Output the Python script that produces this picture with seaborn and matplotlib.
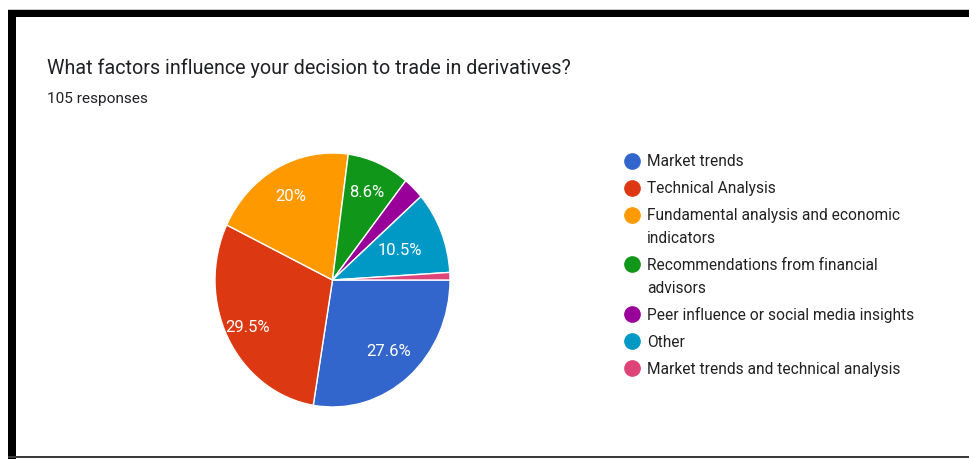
import matplotlib
matplotlib.use("Agg")
import matplotlib.pyplot as plt
import seaborn as sns
import numpy as np
from matplotlib.lines import Line2D
from matplotlib.patches import Rectangle

# ---- data -------------------------------------------------------------
title = "What factors influence your decision to trade in derivatives?"
subtitle = "105 responses"
categories = [
    "Market trends",
    "Technical Analysis",
    "Fundamental analysis and economic\nindicators",
    "Recommendations from financial\nadvisors",
    "Peer influence or social media insights",
    "Other",
    "Market trends and technical analysis",
]
counts = [29, 31, 21, 9, 3, 11, 1]
colors = ["#3366CC", "#DC3912", "#FF9900", "#109618", "#990099", "#0099C6", "#DD4477"]

# radial position of each percentage label (fraction of the radius)
label_radius = [0.74, 0.81, 0.75, 0.75, 0.70, 0.62, 0.70]

# ---- style ------------------------------------------------------------
sns.set_theme(style="white")
plt.rcParams["font.family"] = ["Roboto", "DejaVu Sans"]

W, H = 970, 459
fig = plt.figure(figsize=(W / 100, H / 100), dpi=100)
fig.patch.set_facecolor("white")


def fx(px):
    return px / W


def fy(py):
    return 1 - py / H


# ---- frame ------------------------------------------------------------
fig.add_artist(Rectangle((fx(8), fy(9.6)), 1, 1 / H, transform=fig.transFigure,
                         color="#c8c8c8", lw=0))
fig.add_artist(Rectangle((fx(8), fy(17)), 1, 7 / H, transform=fig.transFigure,
                         color="black", lw=0))
fig.add_artist(Rectangle((fx(8), 0), 8 / W, fy(10), transform=fig.transFigure,
                         color="black", lw=0))
fig.add_artist(Rectangle((fx(8), fy(457.5)), 1, 2 / H, transform=fig.transFigure,
                         color="#3a3a3a", lw=0))

# ---- titles -----------------------------------------------------------
fig.text(fx(47), fy(74), title, fontsize=14.2, color="#202124",
         ha="left", va="baseline")
fig.text(fx(47), fy(103), subtitle, fontsize=11.1, color="#202124",
         ha="left", va="baseline")

# ---- pie --------------------------------------------------------------
ax = fig.add_axes([fx(215), fy(407), 235 / W, 254 / H])
palette = sns.color_palette(colors)
wedges, _ = ax.pie(counts, colors=palette, startangle=0, counterclock=False,
                   wedgeprops=dict(edgecolor="white", linewidth=1.0))
ax.set_aspect("auto")
ax.set_xlim(-1, 1)
ax.set_ylim(-1, 1)
ax.axis("off")

total = sum(counts)
for w, c, r in zip(wedges, counts, label_radius):
    pct = 100 * c / total
    if pct < 5:
        continue
    txt = f"{pct:.1f}".rstrip("0").rstrip(".") + "%"
    mid = np.deg2rad((w.theta1 + w.theta2) / 2)
    ax.text(r * np.cos(mid), r * np.sin(mid), txt, ha="center", va="center",
            color="white", fontsize=12)

# ---- legend -----------------------------------------------------------
legend_size = 11.2
line_step = 22.7
baseline_shift = 0.355 * legend_size * 100 / 72
row_y = 160.7
for cat, col in zip(categories, palette):
    extra = cat.count("\n")
    fig.add_artist(Line2D([fx(632)], [fy(row_y)], marker="o", markersize=11,
                          color=col, lw=0, transform=fig.transFigure))
    # multi-line text is anchored at the baseline of its last line
    fig.text(fx(647), fy(row_y + baseline_shift + line_step * extra), cat,
             fontsize=legend_size, color="#222222", ha="left", va="baseline",
             linespacing=1.62)
    row_y += 27 + line_step * extra

fig.savefig("out.png", dpi=100, facecolor="white")
